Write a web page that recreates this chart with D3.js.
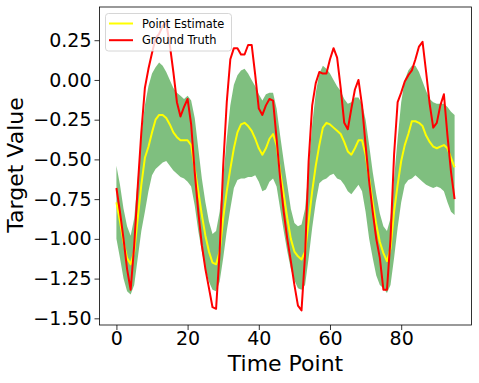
<!DOCTYPE html>
<html>
<head>
<meta charset="utf-8">
<script src="https://cdn.jsdelivr.net/npm/d3@7"></script>
<style>
  body { margin: 0; background: #fff; }
  svg { display: block; font-family: "DejaVu Sans", sans-serif; }
</style>
</head>
<body>
<svg id="chart" width="479" height="383"></svg>
<script>
// values, one per time point 0..95
const groundTruth = [
  -0.68, -0.83, -1.00, -1.19, -1.32, -1.04, -0.67, -0.33, -0.05, 0.07,
  0.17, 0.26, 0.29, 0.34, 0.36, 0.22, 0.05, -0.14, -0.23, -0.17,
  -0.12, -0.28, -0.58, -0.83, -1.04, -1.19, -1.31, -1.43, -1.44, -1.08,
  -0.54, -0.14, 0.13, 0.20, 0.20, 0.16, 0.16, 0.22, 0.22, 0.03,
  -0.18, -0.22, -0.16, -0.12, -0.13, -0.37, -0.62, -0.83, -1.00, -1.14,
  -1.29, -1.42, -1.45, -1.10, -0.51, -0.16, -0.02, 0.05, 0.04, 0.04,
  0.13, 0.20, 0.14, -0.05, -0.27, -0.31, -0.18, -0.06, 0.00, -0.16,
  -0.41, -0.64, -0.83, -1.00, -1.12, -1.32, -1.32, -1.00, -0.47, -0.14,
  -0.08, -0.01, 0.03, 0.06, 0.13, 0.21, 0.24, 0.05, -0.15, -0.30,
  -0.27, -0.16, -0.09, -0.35, -0.58, -0.75
];
const pointEstimate = [
  -0.77, -0.89, -1.02, -1.12, -1.16, -1.08, -0.87, -0.66, -0.49, -0.42,
  -0.33, -0.25, -0.22, -0.22, -0.24, -0.28, -0.33, -0.36, -0.38, -0.38,
  -0.38, -0.41, -0.56, -0.70, -0.85, -0.98, -1.08, -1.15, -1.16, -1.08,
  -0.87, -0.70, -0.56, -0.43, -0.33, -0.28, -0.27, -0.29, -0.32, -0.37,
  -0.43, -0.47, -0.43, -0.37, -0.34, -0.41, -0.58, -0.72, -0.87, -1.00,
  -1.08, -1.11, -1.13, -1.08, -0.89, -0.70, -0.54, -0.41, -0.30, -0.27,
  -0.28, -0.30, -0.32, -0.34, -0.39, -0.45, -0.47, -0.43, -0.38, -0.38,
  -0.47, -0.62, -0.77, -0.91, -1.02, -1.09, -1.14, -1.06, -0.83, -0.66,
  -0.51, -0.41, -0.34, -0.26, -0.26, -0.27, -0.29, -0.35, -0.39, -0.42,
  -0.43, -0.42, -0.41, -0.43, -0.49, -0.55
];
const upperBound = [
  -0.54, -0.66, -0.81, -0.92, -0.98, -0.87, -0.62, -0.35, -0.16, -0.04,
  0.04, 0.08, 0.11, 0.09, 0.05, 0.00, -0.05, -0.08, -0.10, -0.12,
  -0.10, -0.13, -0.24, -0.43, -0.62, -0.77, -0.89, -0.97, -0.95, -0.83,
  -0.62, -0.37, -0.16, -0.03, 0.03, 0.06, 0.07, 0.04, 0.00, -0.04,
  -0.09, -0.13, -0.09, -0.08, -0.08, -0.18, -0.35, -0.51, -0.66, -0.81,
  -0.90, -0.92, -0.91, -0.81, -0.56, -0.28, -0.08, 0.04, 0.09, 0.07,
  0.04, 0.00, -0.04, -0.07, -0.12, -0.15, -0.14, -0.11, -0.11, -0.15,
  -0.25, -0.41, -0.58, -0.72, -0.84, -0.92, -0.95, -0.87, -0.62, -0.37,
  -0.14, 0.00, 0.06, 0.09, 0.09, 0.05, -0.01, -0.07, -0.12, -0.14,
  -0.15, -0.15, -0.15, -0.17, -0.20, -0.22
];
const lowerBound = [
  -1.00, -1.12, -1.25, -1.33, -1.35, -1.29, -1.12, -0.95, -0.83, -0.70,
  -0.60, -0.56, -0.54, -0.52, -0.51, -0.54, -0.57, -0.59, -0.61, -0.62,
  -0.64, -0.67, -0.79, -0.95, -1.08, -1.19, -1.27, -1.32, -1.33, -1.27,
  -1.12, -0.95, -0.81, -0.68, -0.63, -0.62, -0.62, -0.61, -0.61, -0.60,
  -0.64, -0.70, -0.69, -0.64, -0.62, -0.67, -0.81, -0.95, -1.08, -1.19,
  -1.26, -1.31, -1.32, -1.29, -1.12, -0.93, -0.77, -0.65, -0.63, -0.62,
  -0.60, -0.59, -0.62, -0.63, -0.66, -0.70, -0.72, -0.69, -0.66, -0.70,
  -0.83, -1.00, -1.12, -1.23, -1.29, -1.31, -1.34, -1.29, -1.12, -0.93,
  -0.77, -0.66, -0.63, -0.62, -0.60, -0.62, -0.64, -0.66, -0.67, -0.68,
  -0.67, -0.68, -0.70, -0.77, -0.83, -0.85
];
const xTicks = [0, 20, 40, 60, 80];
const yTicks = [0.25, 0.00, -0.25, -0.50, -0.75, -1.00, -1.25, -1.50];
const legendLabels = ["Point Estimate", "Ground Truth"];

const plotLeft = 99.5, plotRight = 471.5, plotTop = 7, plotBottom = 325;
const svg = d3.select("#chart");

const x = d3.scaleLinear().domain([-4.75, 99.75]).range([plotLeft, plotRight]);
const y = d3.scaleLinear().domain([-1.542, 0.459]).range([plotBottom, plotTop]);

const rows = d3.range(groundTruth.length).map(i => ({
  t: i, gt: groundTruth[i], est: pointEstimate[i], lo: lowerBound[i], hi: upperBound[i]
}));

// band
svg.append("path")
  .datum(rows)
  .attr("fill", "#008000")
  .attr("fill-opacity", 0.5)
  .attr("d", d3.area().x(d => x(d.t)).y0(d => y(d.lo)).y1(d => y(d.hi)));

const line = key => d3.line().x(d => x(d.t)).y(d => y(d[key]));

svg.append("path").datum(rows)
  .attr("fill", "none").attr("stroke", "#ffff00").attr("stroke-width", 2)
  .attr("stroke-linejoin", "round")
  .attr("d", line("est"));

svg.append("path").datum(rows)
  .attr("fill", "none").attr("stroke", "#ff0000").attr("stroke-width", 2)
  .attr("stroke-linejoin", "round")
  .attr("d", line("gt"));

// axes
const xAxis = svg.append("g")
  .attr("transform", `translate(0,${plotBottom})`)
  .call(d3.axisBottom(x).tickValues(xTicks).tickSize(5).tickPadding(2).tickFormat(d3.format("d")));
const yAxis = svg.append("g")
  .attr("transform", `translate(${plotLeft},0)`)
  .call(d3.axisLeft(y).tickValues(yTicks).tickSize(5).tickPadding(3)
    .tickFormat(d => d3.format(".2f")(d).replace("-", "\u2212")));

[xAxis, yAxis].forEach(g => {
  g.select(".domain").remove();
  g.selectAll("line").attr("stroke", "#000").attr("stroke-width", 0.8);
  g.selectAll("text").attr("fill", "#000").style("font-size", "19px")
    .style("font-family", "DejaVu Sans, sans-serif");
});
xAxis.selectAll("text").attr("dy", "0.71em");

// frame
svg.append("rect")
  .attr("x", plotLeft).attr("y", plotTop)
  .attr("width", plotRight - plotLeft).attr("height", plotBottom - plotTop)
  .attr("fill", "none").attr("stroke", "#000").attr("stroke-width", 0.8);

// axis labels
svg.append("text")
  .attr("x", (plotLeft + plotRight) / 2).attr("y", 371)
  .attr("text-anchor", "middle").style("font-size", "22px")
  .text("Time Point");
svg.append("text")
  .attr("transform", `translate(23,165) rotate(-90)`)
  .attr("text-anchor", "middle").style("font-size", "22px")
  .text("Target Value");

// legend
const leg = svg.append("g");
leg.append("rect")
  .attr("x", 105.5).attr("y", 13.5).attr("width", 126).attr("height", 37.5)
  .attr("rx", 3)
  .attr("fill", "#fff").attr("fill-opacity", 0.8)
  .attr("stroke", "#ccc").attr("stroke-width", 0.8);
const legColors = ["#ffff00", "#ff0000"];
legendLabels.forEach((label, i) => {
  const ly = 23.5 + i * 16.7;
  leg.append("line")
    .attr("x1", 109).attr("x2", 133).attr("y1", ly).attr("y2", ly)
    .attr("stroke", legColors[i]).attr("stroke-width", 2);
  leg.append("text")
    .attr("x", 142).attr("y", ly + 4)
    .style("font-size", "11.4px").attr("fill", "#000")
    .text(label);
});
</script>
</body>
</html>
